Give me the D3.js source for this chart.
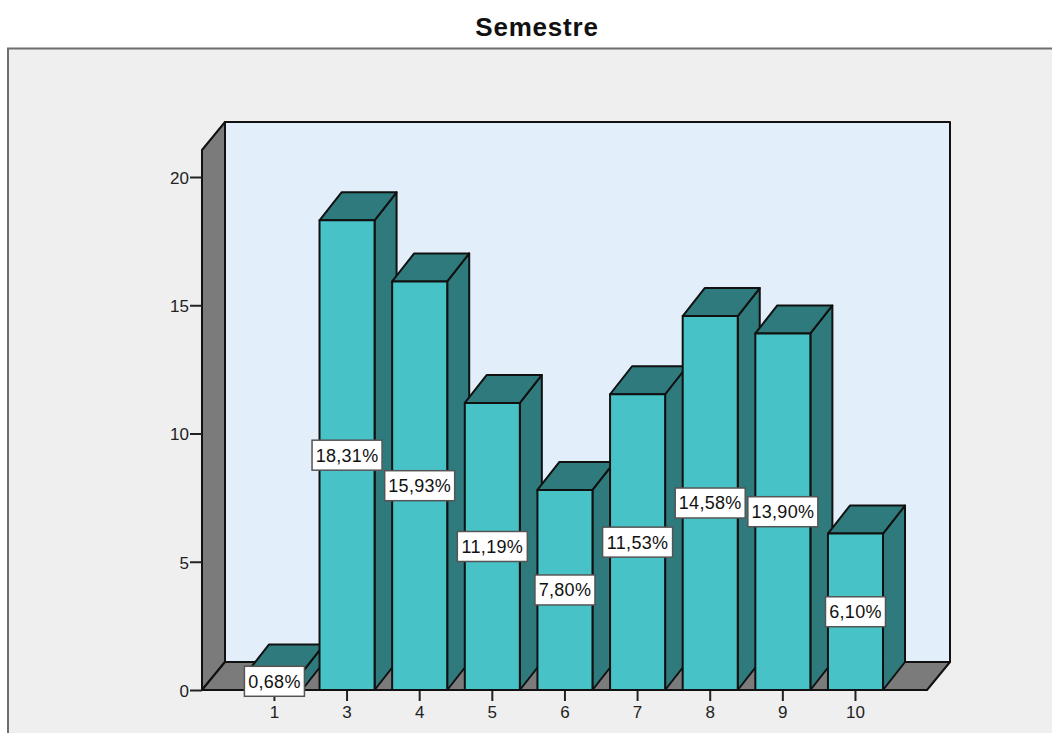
<!DOCTYPE html>
<html><head><meta charset="utf-8">
<script src="https://cdn.jsdelivr.net/npm/d3@7/dist/d3.min.js"></script>
<style>html,body{margin:0;padding:0;background:#fff}svg{display:block}</style>
</head><body><svg id="c" width="1052" height="733"></svg>
<script>
const categories = ["1","3","4","5","6","7","8","9","10"];
const values = [0.68,18.31,15.93,11.19,7.80,11.53,14.58,13.90,6.10];
const labels = ["0,68%","18,31%","15,93%","11,19%","7,80%","11,53%","14,58%","13,90%","6,10%"];
const yTicks = [0,5,10,15,20];

const svg = d3.select("#c");
const font = "'Liberation Sans', Arial, sans-serif";
const dx = 23, dy = 28;
const x = d3.scaleBand().domain(categories).range([238.1,891.8]).paddingInner(0.242).paddingOuter(0.121);
const y = d3.scaleLinear().domain([0,20]).range([690,177]);
const L = 202, R = 927, T = 150, B = 690;
const line = d3.line();

svg.append("rect").attr("x",8).attr("y",48.5).attr("width",1060).attr("height",720)
  .attr("fill","#efefef").attr("stroke","#6e6e6e").attr("stroke-width",2);

const wall = {stroke:"#111","stroke-width":2,"stroke-linejoin":"round"};
function poly(pts, fill, g){
  const p = (g||svg).append("path").attr("d", line(pts)+"Z").attr("fill",fill);
  Object.entries(wall).forEach(([k,v])=>p.attr(k,v));
  return p;
}
poly([[L+dx,T-dy],[R+dx,T-dy],[R+dx,B-dy],[L+dx,B-dy]],"#e3eefb");
poly([[L,T],[L+dx,T-dy],[L+dx,B-dy],[L,B]],"#7b7b7b");
poly([[L,B],[L+dx,B-dy],[R+dx,B-dy],[R,B]],"#7b7b7b");

const bars = svg.append("g").selectAll("g").data(categories).join("g");
bars.each(function(c,i){
  const g = d3.select(this), x0 = x(c), x1 = x0 + x.bandwidth(), yt = y(values[i]);
  poly([[x1,yt],[x1+dx-1,yt-dy],[x1+dx-1,B-dy],[x1,B]],"#2e7a7c",g);
  poly([[x0,yt],[x0+dx-1,yt-dy],[x1+dx-1,yt-dy],[x1,yt]],"#2e7a7c",g);
  poly([[x0,yt],[x1,yt],[x1,B],[x0,B]],"#47c2c7",g);
});

const yAxis = d3.axisLeft(y).tickValues(yTicks).tickSize(12).tickPadding(1).tickFormat(d3.format("d"));
const gy = svg.append("g").attr("transform",`translate(${L},0)`).call(yAxis);
const xAxis = d3.axisBottom(x).tickSize(11).tickPadding(5);
const gx = svg.append("g").attr("transform",`translate(0,${B})`).call(xAxis);
gx.select(".domain").remove();
gy.select(".domain").remove();
svg.append("line").attr("x1",L).attr("x2",R).attr("y1",B).attr("y2",B).attr("stroke","#111").attr("stroke-width",2);
[gx,gy].forEach(g=>{
  g.selectAll("line").attr("stroke","#222").attr("stroke-width",2);
  g.selectAll("text").attr("font-family",font).attr("font-size",17).attr("fill","#222");
});
gy.selectAll("text").attr("dy","0.38em");

const lab = svg.append("g").selectAll("g").data(categories).join("g")
  .attr("transform",(c,i)=>`translate(${x(c)+x.bandwidth()/2},${(y(values[i])+B)/2})`);
lab.append("rect")
  .attr("x",(c,i)=>labels[i].length>5?-35:-30).attr("y",-15)
  .attr("width",(c,i)=>labels[i].length>5?70:60).attr("height",30)
  .attr("fill","#fff").attr("stroke","#555").attr("stroke-width",1.5);
lab.append("text").text((c,i)=>labels[i]).attr("text-anchor","middle").attr("dy","0.36em")
  .attr("font-family",font).attr("font-size",18).attr("letter-spacing",0.3).attr("fill","#111");

svg.append("text").text("Semestre").attr("x",537).attr("y",36).attr("text-anchor","middle")
  .attr("font-family",font).attr("font-weight","bold").attr("font-size",26).attr("letter-spacing",0.8).attr("fill","#111");
</script></body></html>
